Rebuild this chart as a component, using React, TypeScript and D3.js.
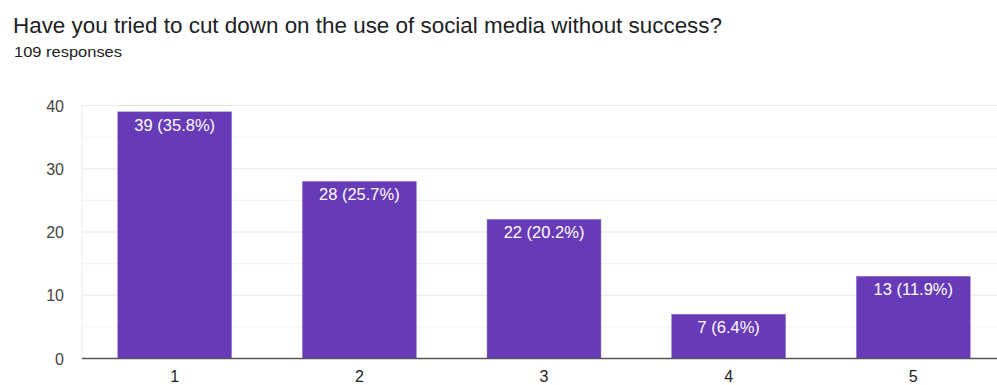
import React from "react";
import * as d3 from "d3";

const categories = ["1", "2", "3", "4", "5"];
const counts = [39, 28, 22, 7, 13];
const percents = ["35.8%", "25.7%", "20.2%", "6.4%", "11.9%"];
const yTicks = [0, 10, 20, 30, 40];
const yMinor = [5, 15, 25, 35];
const title = "Have you tried to cut down on the use of social media without success?";
const subtitle = "109 responses";

export default function App() {
  const W = 997, H = 385;
  const x = d3.scaleBand().domain(categories).range([82.4, 1005.6]).paddingInner(0.383).paddingOuter(0.1915);
  const y = d3.scaleLinear().domain([0, 40]).range([358.5, 105.5]);
  const font = "'Liberation Sans', Arial, Helvetica, sans-serif";
  return (
    <svg width={W} height={H} style={{ position: "absolute", left: 0, top: 0, background: "#fff" }} fontFamily={font}>
      <text x={13} y={33} fontSize={22} fill="#202124" textLength={709} lengthAdjust="spacingAndGlyphs">{title}</text>
      <text x={14} y={57} fontSize={15} fill="#202124" textLength={108} lengthAdjust="spacingAndGlyphs">{subtitle}</text>
      {yMinor.map(t => (
        <line key={"m" + t} x1={82} x2={W} y1={y(t)} y2={y(t)} stroke="#f3f3f3" strokeWidth={1} />
      ))}
      {yTicks.filter(t => t > 0).map(t => (
        <line key={"g" + t} x1={82} x2={W} y1={y(t)} y2={y(t)} stroke="#e6e6e6" strokeWidth={1} />
      ))}
      <line x1={82} x2={82} y1={y(40)} y2={y(0)} stroke="#eeeeee" strokeWidth={1} />
      {yTicks.map(t => (
        <text key={"t" + t} x={64} y={y(t) + 6} fontSize={16} fill="#444" textAnchor="end">{t}</text>
      ))}
      {categories.map((c, i) => (
        <g key={c}>
          <rect x={x(c)} y={y(counts[i])} width={x.bandwidth()} height={y(0) - y(counts[i])} fill="#673ab7" stroke="#9575cd" strokeWidth={0.5} />
          <text x={(x(c) as number) + x.bandwidth() / 2} y={y(counts[i]) + 19} fontSize={16.5} fill="#fff" textAnchor="middle">
            {counts[i]} ({percents[i]})
          </text>
          <text x={(x(c) as number) + x.bandwidth() / 2} y={y(0) + 23} fontSize={16} fill="#222" textAnchor="middle">{c}</text>
        </g>
      ))}
      <line x1={82} x2={W} y1={y(0)} y2={y(0)} stroke="#555" strokeWidth={1.5} />
    </svg>
  );
}
